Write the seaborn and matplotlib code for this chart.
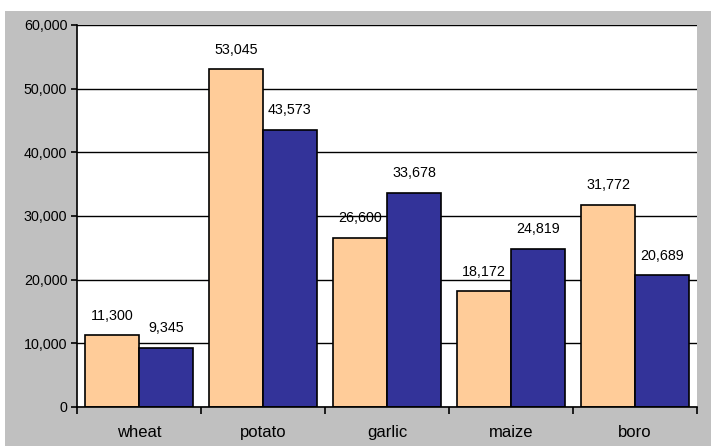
import matplotlib
matplotlib.use("Agg")
import matplotlib.pyplot as plt
from matplotlib.patches import Rectangle
from matplotlib.ticker import FuncFormatter, FixedLocator
import seaborn as sns
import pandas as pd

# chart data
crops = ["wheat", "potato", "garlic", "maize", "boro"]
series_a = [11300, 53045, 26600, 18172, 31772]
series_b = [9345, 43573, 33678, 24819, 20689]

df = pd.DataFrame({
    "crop": crops * 2,
    "value": series_a + series_b,
    "series": ["A"] * len(crops) + ["B"] * len(crops),
})

sns.set_theme(style="white")
plt.rcParams["font.family"] = ["Liberation Sans", "DejaVu Sans"]

fig = plt.figure(figsize=(7.11, 4.46), dpi=100)
fig.patch.set_facecolor("white")
# gray chart-area background
fig.patches.append(Rectangle((5 / 711, 0), 1, (446 - 11) / 446,
                             transform=fig.transFigure, facecolor="#C0C0C0",
                             edgecolor="none", zorder=-5))

ax = fig.add_axes([77 / 711, 1 - 407 / 446, 620 / 711, 382 / 446])
ax.set_facecolor("white")

sns.barplot(data=df, x="crop", y="value", hue="series",
            palette=["#FFCC99", "#333399"], saturation=1, width=0.87,
            edgecolor="black", linewidth=1.2, legend=False, ax=ax)

ax.set_ylim(0, 60000)
ax.set_xlim(-0.5, len(crops) - 0.5)
ax.set_yticks(range(0, 60001, 10000))
ax.yaxis.set_major_formatter(FuncFormatter(lambda v, p: f"{int(v):,}"))
ax.grid(axis="y", color="black", linewidth=1)
ax.set_axisbelow(True)

for cont in ax.containers:
    ax.bar_label(cont, labels=[f"{int(v):,}" for v in cont.datavalues],
                 padding=9, fontsize=10.3, color="black")

ax.set_xlabel("")
ax.set_ylabel("")
for s in ["top", "right"]:
    ax.spines[s].set_visible(False)
for s in ["left", "bottom"]:
    ax.spines[s].set_color("black")
    ax.spines[s].set_linewidth(1.2)

ax.tick_params(axis="y", which="major", left=True, length=4, width=1.2,
               color="black", labelsize=10.3, labelcolor="black", pad=3)
ax.tick_params(axis="x", which="major", bottom=False, length=0, labelsize=12,
               labelcolor="black", pad=13)
ax.xaxis.set_minor_locator(FixedLocator([i + 0.5 for i in range(-1, len(crops))]))
ax.tick_params(axis="x", which="minor", bottom=True, length=5, width=1.2,
               color="black", direction="out")

fig.savefig("out.png", dpi=100)
